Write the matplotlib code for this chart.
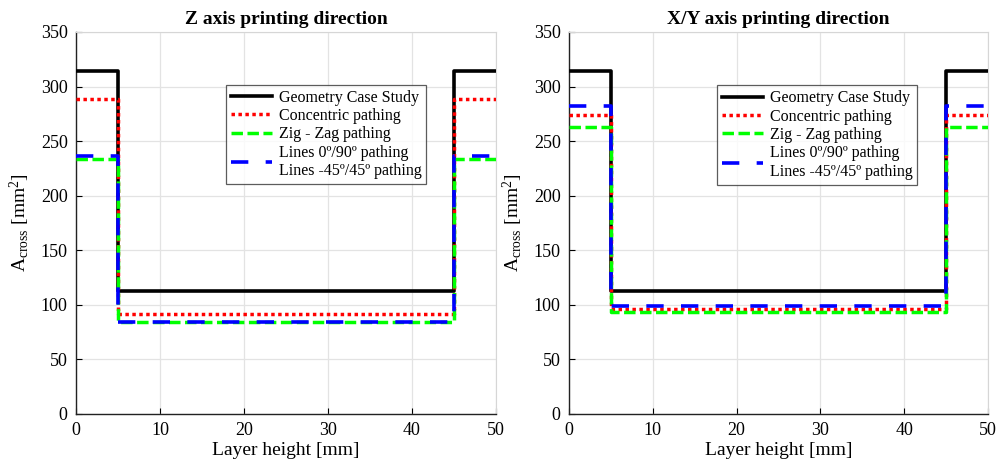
import matplotlib
matplotlib.use("Agg")
import matplotlib.pyplot as plt

plt.rcParams['font.family'] = ['Liberation Serif', 'DejaVu Serif']
plt.rcParams['mathtext.fontset'] = 'custom'
plt.rcParams['mathtext.rm'] = 'Liberation Serif'
plt.rcParams['mathtext.it'] = 'Liberation Serif:italic'

# Layer height breakpoints [mm] (step function, value holds until next breakpoint)
layer_height = [0, 5, 45, 50]

# Z axis printing direction
z_geometry = [314, 113, 314, 314]
z_concentric = [289, 92, 289, 289]
z_zigzag = [234, 84, 234, 234]
z_lines = [236, 84, 236, 236]

# X/Y axis printing direction
xy_geometry = [314, 113, 314, 314]
xy_concentric = [274, 96, 274, 274]
xy_zigzag = [263, 93, 263, 263]
xy_lines = [282, 99, 282, 282]

titles = ["Z axis printing direction", "X/Y axis printing direction"]
labels = ["Geometry Case Study", "Concentric pathing", "Zig - Zag pathing",
          "Lines 0º/90º pathing\nLines -45º/45º pathing"]
x_ticks = [0, 10, 20, 30, 40, 50]
y_ticks = [0, 50, 100, 150, 200, 250, 300, 350]

fig = plt.figure(figsize=(9.98, 4.72), dpi=100)
ax1 = fig.add_axes([76/998, 1-414/472, 420/998, 382/472])
ax2 = fig.add_axes([569/998, 1-414/472, 419/998, 382/472])

datasets = [(z_geometry, z_concentric, z_zigzag, z_lines),
            (xy_geometry, xy_concentric, xy_zigzag, xy_lines)]
legend_pos = [(0.357, 0.862), (0.353, 0.860)]

for ax, data, title, lp in zip([ax1, ax2], datasets, titles, legend_pos):
    geo, conc, zig, lin = data
    ax.plot(layer_height, geo, drawstyle='steps-post', color='black', lw=2.6,
            label=labels[0], zorder=3)
    ax.plot(layer_height, conc, drawstyle='steps-post', color='#ff0000', lw=2.5,
            linestyle=(0, (1.0, 1.0)), dash_capstyle='butt', label=labels[1], zorder=4)
    ax.plot(layer_height, zig, drawstyle='steps-post', color='#00ff00', lw=2.5,
            linestyle=(0, (3.3, 1.3)), dash_capstyle='butt', label=labels[2], zorder=5)
    ax.plot(layer_height, lin, drawstyle='steps-post', color='#0000ff', lw=2.6,
            linestyle=(0, (4.8, 4.8)), dash_capstyle='butt', label=labels[3], zorder=6)

    ax.set_xlim(0, 50)
    ax.set_ylim(0, 350)
    ax.set_xticks(x_ticks)
    ax.set_yticks(y_ticks)
    ax.tick_params(direction='in', length=4, width=0.8, labelsize=13, pad=6)
    ax.grid(True, color='#e3e3e3', lw=0.9)
    ax.set_axisbelow(True)
    for s in ['top', 'right']:
        ax.spines[s].set_color('#d6d6d6')
    for s in ['left', 'bottom']:
        ax.spines[s].set_color('#222222')
        ax.spines[s].set_linewidth(1.0)
    ax.set_title(title, fontsize=14, fontweight='bold', pad=6)
    ax.set_xlabel("Layer height [mm]", fontsize=14, labelpad=2)
    ax.set_ylabel(r"A$_{\mathrm{cross}}$ [mm$^2$]", fontsize=14, labelpad=6)
    leg = ax.legend(loc='upper left', bbox_to_anchor=lp, fontsize=11.5,
                    frameon=True, fancybox=False, edgecolor='#333333',
                    handlelength=2.6, handletextpad=0.4, borderpad=0.3,
                    labelspacing=0.15, borderaxespad=0)
    leg.get_frame().set_linewidth(0.9)

fig.savefig("out.png", dpi=100)
